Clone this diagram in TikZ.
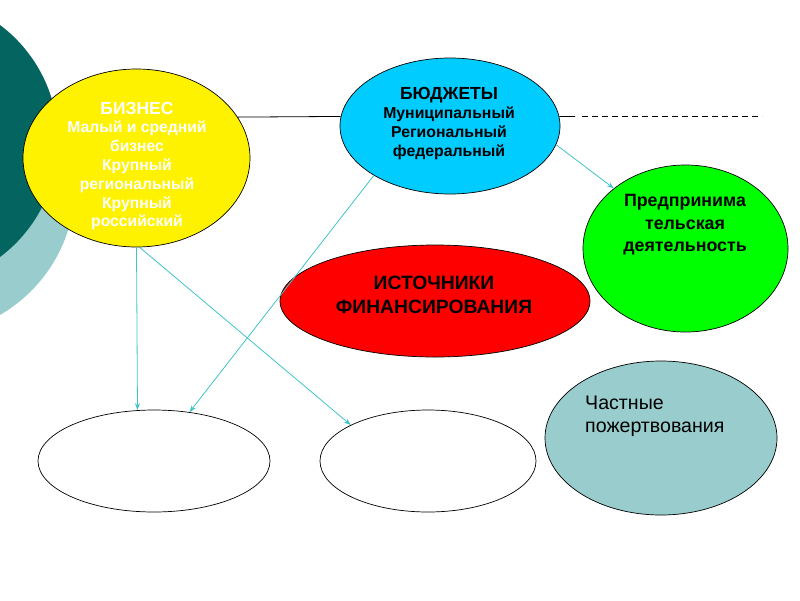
\documentclass[tikz,border=0pt]{standalone}
\usepackage{fontspec}
\setmainfont{Liberation Sans}
\usetikzlibrary{shapes.geometric,arrows.meta}
\definecolor{darkteal}{HTML}{046460}
\definecolor{lightteal}{HTML}{99CCCC}
\definecolor{arrteal}{HTML}{40C4C8}
\definecolor{skyb}{HTML}{00CCFF}
\tikzset{
  oval/.style={ellipse, draw=black, line width=0.7pt, inner sep=0pt},
  conn/.style={draw=arrteal, line width=0.8pt, -{Stealth[length=7pt,width=5pt]}},
  txt/.style={align=center, inner sep=0pt},
}
\begin{document}
\begin{tikzpicture}[x=1pt,y=-1pt]
\useasboundingbox (0,0) rectangle (800,600);
% background circles
\fill[lightteal] (-75,185) circle (150);
\fill[darkteal] (-87,141) circle (145);
% ellipses
\node[oval, fill=yellow, minimum width=227pt, minimum height=178pt] (biz) at (136.5,158) {};
\node[oval, fill=skyb, minimum width=220pt, minimum height=136pt] (bud) at (450,126) {};
\node[oval, fill=green, minimum width=205pt, minimum height=167pt] (pred) at (685.5,248.5) {};
\node[oval, fill=red, minimum width=310pt, minimum height=112pt] (ist) at (435,301) {};
\node[oval, fill=white, minimum width=232pt, minimum height=102pt] (bl) at (154,461) {};
\node[oval, fill=white, minimum width=216pt, minimum height=102pt] (bm) at (428,461) {};
\node[oval, fill=lightteal, minimum width=232pt, minimum height=154pt] (chast) at (661,438) {};
% texts
\node[txt, text=white, font=\fontsize{15.7}{18.8}\selectfont\bfseries] (biztxt) at (137,166)
  {{\fontsize{17.5}{18.8}\selectfont БИЗНЕС}\\Малый и средний\\бизнес\\Крупный\\региональный\\Крупный\\российский};
\node[txt, font=\fontsize{15.8}{19}\selectfont\bfseries] (budtxt) at (449,124)
  {{\fontsize{17.5}{19}\selectfont БЮДЖЕТЫ}\\Муниципальный\\Региональный\\федеральный};
\node[txt, font=\fontsize{17.8}{22.5}\selectfont\bfseries] (predtxt) at (685,225)
  {Предпринима\\тельская\\деятельность};
\node[txt, font=\fontsize{19.3}{23.5}\selectfont\bfseries] (isttxt) at (434,295)
  {ИСТОЧНИКИ\\ФИНАНСИРОВАНИЯ};
\node[txt, align=left, anchor=west, font=\fontsize{19.6}{23}\selectfont] (chtxt) at (585,416)
  {Частные\\пожертвования};
% lines
\coordinate (solidend) at (575,116.5);
\coordinate (dashstart) at (582,116.5);
\coordinate (dashend) at (762,116.5);
\draw[line width=0.8pt] (biz.22) -- (bud.175);
\draw[line width=0.8pt] (bud.5) -- (solidend);
\draw[line width=0.7pt, dash pattern=on 6pt off 4pt] (dashstart) -- (dashend);
% arrows
\draw[conn] (biz.south) -- (bl.108);
\draw[conn] (biz.-88) -- (bm.155);
\draw[conn] (bud.213) -- (bl.54);
\draw[conn] (bud.-10) -- (pred.140);
\end{tikzpicture}
\end{document}
